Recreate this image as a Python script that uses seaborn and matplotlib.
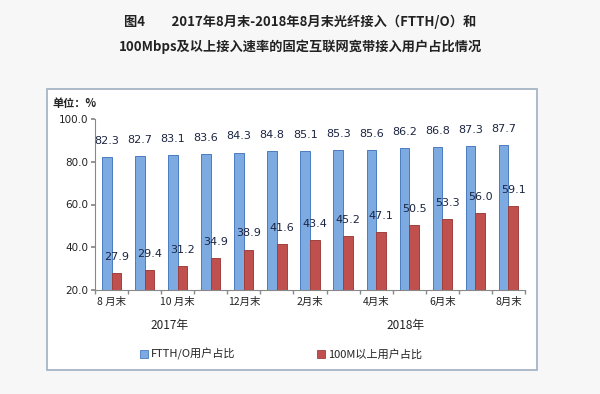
import pandas as pd
import matplotlib
matplotlib.use("Agg")
import matplotlib.pyplot as plt
import seaborn as sns
from matplotlib.patches import Rectangle

# ------------------------------ dados ------------------------------
meses = ["2017-08", "2017-09", "2017-10", "2017-11", "2017-12", "2018-01", "2018-02",
         "2018-03", "2018-04", "2018-05", "2018-06", "2018-07", "2018-08"]
ftth = [82.3, 82.7, 83.1, 83.6, 84.3, 84.8, 85.1, 85.3, 85.6, 86.2, 86.8, 87.3, 87.7]
m100 = [27.9, 29.4, 31.2, 34.9, 38.9, 41.6, 43.4, 45.2, 47.1, 50.5, 53.3, 56.0, 59.1]
rotulos_x = ["8 月末", "", "10 月末", "", "12月末", "", "2月末", "", "4月末", "", "6月末", "", "8月末"]
anos = ["2017年", "2018年"]
series = ["FTTH/O用户占比", "100M以上用户占比"]

df = pd.DataFrame({
    "mes": meses * 2,
    "valor": ftth + m100,
    "serie": [series[0]] * len(meses) + [series[1]] * len(meses),
})

sns.set_theme(style="white")
plt.rcParams["font.family"] = ["Noto Sans CJK SC", "DejaVu Sans"]

fig = plt.figure(figsize=(6, 3.94), dpi=100, facecolor="#f7f7f7")
# moldura branca do gráfico
fig.patches.append(Rectangle((47 / 600, 1 - 370 / 394), 490 / 600, 281 / 394,
                             transform=fig.transFigure, facecolor="white",
                             edgecolor="#9fb0c0", linewidth=1.2, zorder=-10))

ax = fig.add_axes([95 / 600, 1 - 290 / 394, 430 / 600, 171 / 394])
ax.set_facecolor("white")

sns.barplot(data=df, x="mes", y="valor", hue="serie", order=meses, hue_order=series,
            palette=["#7eaae2", "#c0504d"], saturation=1, width=0.58, ax=ax, legend=False)
for i, patch in enumerate(ax.patches[:2 * len(meses)]):
    patch.set_edgecolor("#4a7cc0" if i < len(meses) else "#a0403d")
    patch.set_linewidth(0.7)

cor_rotulo = "#1c2541"
for cont in ax.containers:
    ax.bar_label(cont, labels=[f"{v:.1f}" for v in cont.datavalues], padding=8,
                 fontsize=8, color=cor_rotulo, family="DejaVu Sans")

ax.set_ylim(20, 100)
ax.set_yticks([20, 40, 60, 80, 100])
ax.set_yticklabels([f"{v:.1f}" for v in [20, 40, 60, 80, 100]], fontsize=7.5,
                   family="DejaVu Sans", color="#222222")
ax.set_xlim(-0.5, len(meses) - 0.5)
ax.set_xticks(range(len(meses)))
ax.set_xticklabels(rotulos_x, fontsize=7.5, color="#222222")
ax.set_xticks([k + 0.5 for k in range(-1, len(meses))], minor=True)
ax.tick_params(axis="x", which="major", length=0, pad=5)
ax.tick_params(axis="x", which="minor", length=3, color="#888888", direction="out", bottom=True)
ax.tick_params(axis="y", length=3, color="#888888", direction="out", left=True, pad=2)
ax.set_xlabel("")
ax.set_ylabel("")
for lado in ["top", "right"]:
    ax.spines[lado].set_visible(False)
for lado in ["left", "bottom"]:
    ax.spines[lado].set_color("#888888")
    ax.spines[lado].set_linewidth(0.8)

# títulos e textos
fig.text(0.5, 1 - 22 / 394, "图4　　2017年8月末-2018年8月末光纤接入（FTTH/O）和",
         ha="center", va="center", fontsize=9.5, fontweight="bold", color="#222222")
fig.text(0.5, 1 - 47 / 394, "100Mbps及以上接入速率的固定互联网宽带接入用户占比情况",
         ha="center", va="center", fontsize=9.5, fontweight="bold", color="#222222")
fig.text(52 / 600, 1 - 104 / 394, "单位：%", ha="left", va="center", fontsize=8,
         fontweight="bold", color="#222222")
fig.text(170 / 600, 1 - 326 / 394, anos[0], ha="center", va="center", fontsize=8.5,
         color="#222222")
fig.text(406 / 600, 1 - 326 / 394, anos[1], ha="center", va="center", fontsize=8.5,
         color="#222222")

# legenda
for x0, cor, borda, texto in [(140, "#7eaae2", "#4a7cc0", series[0]),
                              (317, "#c0504d", "#a0403d", series[1])]:
    fig.patches.append(Rectangle((x0 / 600, 1 - 358 / 394), 8 / 600, 8 / 394,
                                 transform=fig.transFigure, facecolor=cor,
                                 edgecolor=borda, linewidth=0.6))
    fig.text((x0 + 11) / 600, 1 - 354 / 394, texto, ha="left", va="center",
             fontsize=8, color="#222222")

fig.savefig("out.png", dpi=100, facecolor=fig.get_facecolor())
